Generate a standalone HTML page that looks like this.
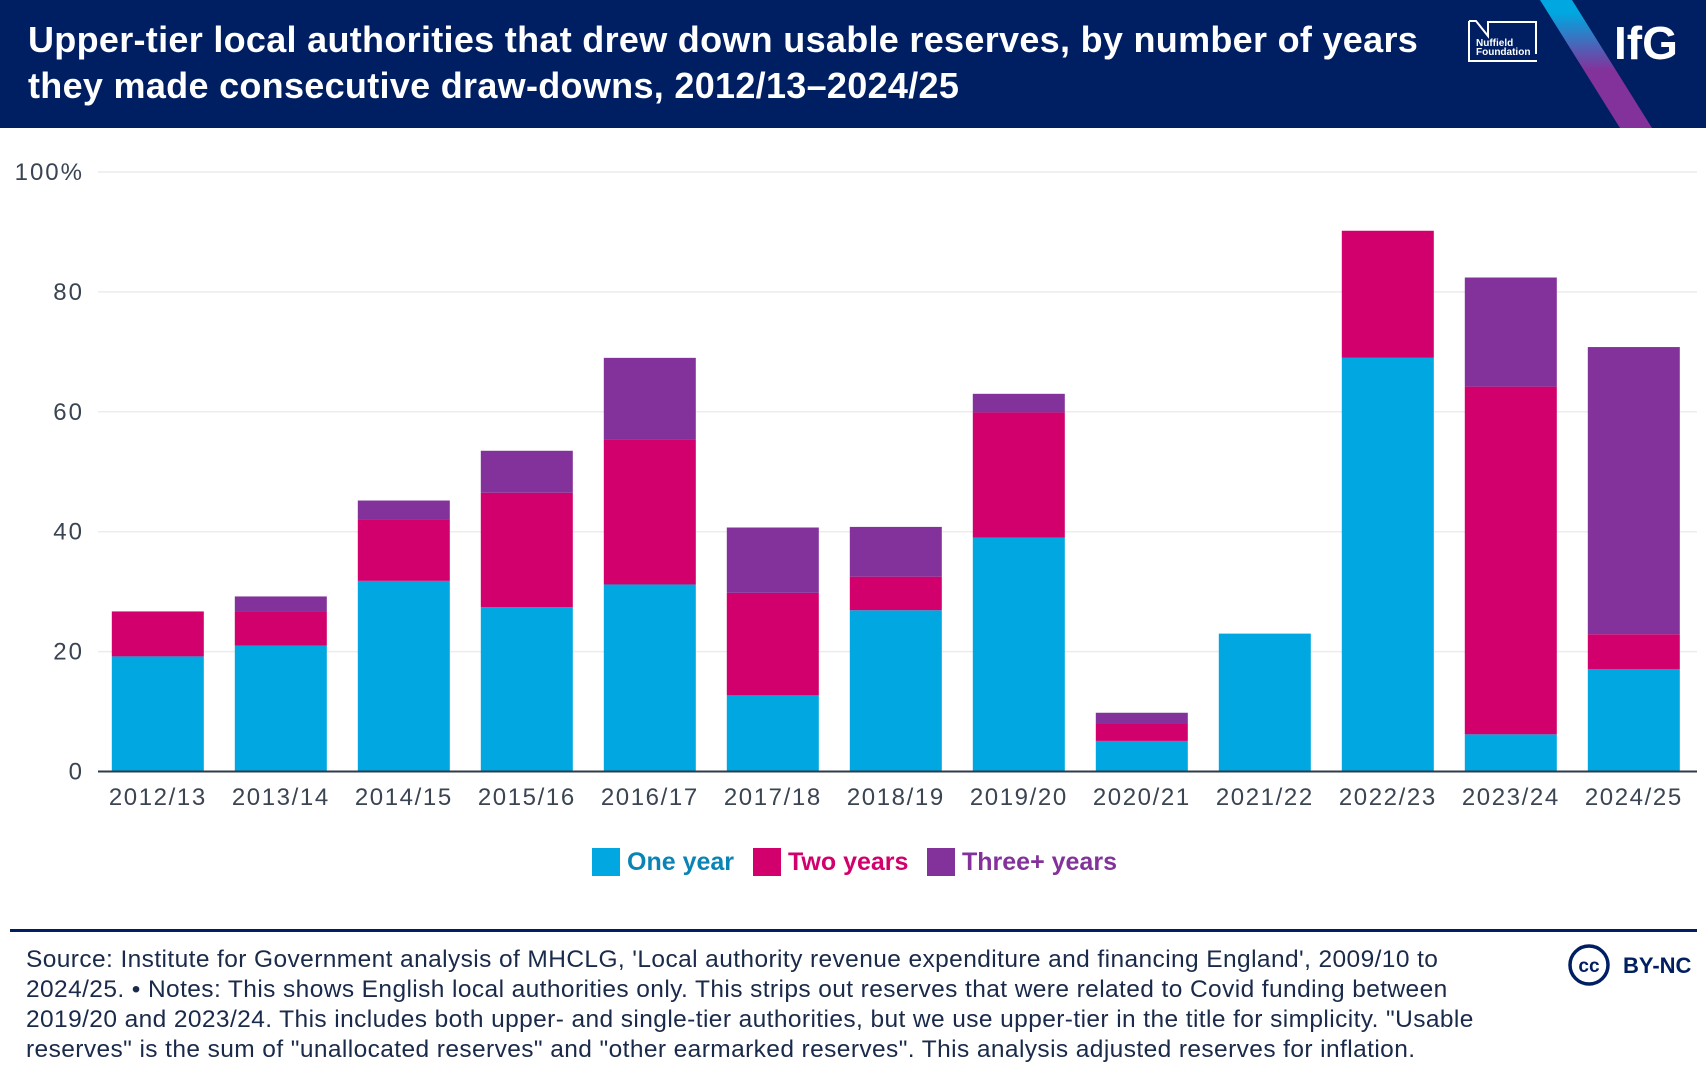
<!DOCTYPE html>
<html><head><meta charset="utf-8"><style>
body{margin:0;width:1706px;height:1082px;background:#fff;font-family:"Liberation Sans",sans-serif;overflow:hidden;position:relative}
.hdr{position:absolute;left:0;top:0;width:1706px;height:128px;background:#001e62;overflow:hidden}
.title{position:absolute;left:28px;top:17px;color:#fff;font-weight:bold;font-size:36px;line-height:46px;letter-spacing:0.3px;white-space:nowrap}
.foot{position:absolute;left:26px;top:945px;width:1490px;font-size:24.5px;line-height:30px;color:#1a2a4a;letter-spacing:0.4px}
</style></head><body>
<div class="hdr">
<div class="title">Upper-tier local authorities that drew down usable reserves, by number of years<br>they made consecutive draw-downs, 2012/13–2024/25</div>
<svg width="1706" height="128" style="position:absolute;left:0;top:0">
<defs><linearGradient id="g" x1="0" y1="0" x2="0" y2="1"><stop offset="0.1" stop-color="#00a7e0"/><stop offset="0.55" stop-color="#84329b"/><stop offset="1" stop-color="#84329b"/></linearGradient></defs>
<rect x="1440" y="0" width="266" height="128" fill="#001e62"/>
<polygon points="1540,0 1572,0 1652,128 1620,128" fill="url(#g)"/>
<g fill="none" stroke="#fff" stroke-width="2">
<polyline points="1469,21 1476,21 1488,36 1488,22 1536,22 1536,54"/>
<polyline points="1469,21 1469,61 1537,61"/>
</g>
<text x="1476" y="46" fill="#fff" font-size="10" font-weight="bold" font-family="Liberation Sans">Nuffield</text>
<text x="1476" y="55" fill="#fff" font-size="10" font-weight="bold" font-family="Liberation Sans">Foundation</text>
<text x="1614" y="59" fill="#fff" font-size="46" font-weight="bold" font-family="Liberation Sans">IfG</text>
</svg>
</div>
<svg id="chart" width="1706" height="940" style="position:absolute;left:0;top:0"></svg>
<div style="position:absolute;left:10px;top:929px;width:1687px;height:3px;background:#001e62"></div>
<div class="foot">Source: Institute for Government analysis of MHCLG, 'Local authority revenue expenditure and financing England', 2009/10 to 2024/25. • Notes: This shows English local authorities only. This strips out reserves that were related to Covid funding between 2019/20 and 2023/24. This includes both upper- and single-tier authorities, but we use upper-tier in the title for simplicity. "Usable reserves" is the sum of "unallocated reserves" and "other earmarked reserves". This analysis adjusted reserves for inflation.</div>
<svg width="140" height="50" style="position:absolute;left:1565px;top:940px">
<circle cx="24" cy="25" r="19" fill="none" stroke="#001e62" stroke-width="3.5"/>
<text x="24" y="32" text-anchor="middle" font-size="19" font-weight="bold" fill="#001e62" font-family="Liberation Sans">cc</text>
<text x="58" y="33" font-size="22" font-weight="bold" fill="#001e62" font-family="Liberation Sans">BY-NC</text>
</svg>
<script>
const categories=["2012/13","2013/14","2014/15","2015/16","2016/17","2017/18","2018/19","2019/20","2020/21","2021/22","2022/23","2023/24","2024/25"];
const oneYear=[19.2,21.0,31.8,27.4,31.2,12.7,26.9,39.0,5.1,23.0,69.0,6.2,17.1];
const twoYears=[7.5,5.7,10.3,19.1,24.2,17.1,5.6,20.9,2.9,0,21.2,58.0,5.8];
const threeYears=[0,2.5,3.1,7.0,13.6,10.9,8.3,3.1,1.8,0,0,18.2,47.9];
const yTicks=[0,20,40,60,80,100];
const seriesNames=["One year","Two years","Three+ years"];
const colors=["#00a7e0","#d2006c","#84329b"];
const textColors=["#0a84b4","#d2006c","#84329b"];
const NS="http://www.w3.org/2000/svg";
const svg=document.getElementById('chart');
const X0=98,X1=1697,Y0=771.5,Y100=172;
const step=123.0,c0=157.8,bw=92;
const y=v=>Y0-(Y0-Y100)*v/100;
const x=i=>c0+i*step;
function mk(t,a){const e=document.createElementNS(NS,t);for(const k in a)e.setAttribute(k,a[k]);svg.appendChild(e);return e;}
yTicks.forEach(t=>{
 if(t>0){const l=mk('line',{x1:X0,x2:X1,y1:y(t),y2:y(t),stroke:'#ececec','stroke-width':1.5});
 
 }
 const tx=mk('text',{x:84,y:y(t)+8,'text-anchor':'end','font-size':24,'letter-spacing':2,fill:'#3a4452','font-family':'Liberation Sans'});
 tx.textContent=t===100?'100%':t;
 
 
});
const series=[oneYear,twoYears,threeYears];
categories.forEach((c,i)=>{
 let base=0;
 series.forEach((s,k)=>{
  const v=s[i];
  if(v>0){const r=mk('rect',{x:x(i)-bw/2,y:y(base+v),width:bw,height:y(base)-y(base+v),fill:colors[k]});
  
  }
  base+=v;
 });
 const t=mk('text',{x:x(i),y:805,'text-anchor':'middle','font-size':24,'letter-spacing':1.6,fill:'#3a4452','font-family':'Liberation Sans'});
 t.textContent=c;
 
 
});
const ax=mk('line',{x1:X0,x2:X1,y1:Y0,y2:Y0,stroke:'#2f3b4a','stroke-width':2});


const lx=[592,753,927];
seriesNames.forEach((n,k)=>{
 const r=mk('rect',{x:lx[k],y:848,width:28,height:28,fill:colors[k]});
 
 
 const t=mk('text',{x:lx[k]+35,y:870,'font-size':25,'font-weight':'bold',fill:textColors[k],'font-family':'Liberation Sans'});
 t.textContent=n;
 
 
});
</script>
</body></html>
